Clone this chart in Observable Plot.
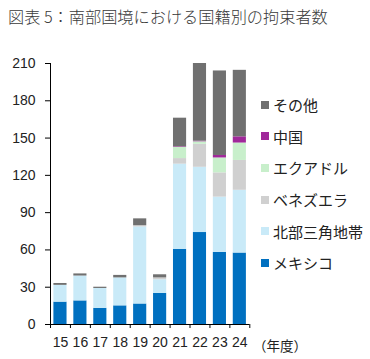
<!DOCTYPE html>
<html><head><meta charset="utf-8">
<script src="https://cdn.jsdelivr.net/npm/d3@7"></script>
<script src="https://cdn.jsdelivr.net/npm/@observablehq/plot@0.6"></script>
<style>
body{margin:0;background:#fff;}
#wrap{position:relative;width:370px;height:359px;overflow:hidden;font-family:"Liberation Sans",Arial,sans-serif;}
#title{position:absolute;left:8px;top:4px;font-family:"Noto Sans CJK JP",sans-serif;font-size:16.2px;color:#3a3a3a;white-space:nowrap;font-weight:300;}
#chart{position:absolute;left:0;top:0;}
#legend{position:absolute;left:261px;top:89px;font-family:"Noto Sans CJK JP",sans-serif;font-size:15px;color:#222;}
.li{display:flex;align-items:center;height:31.6px;}
.sw{width:8px;height:8px;margin-right:4px;}
#unit{position:absolute;left:253px;top:335px;font-family:"Noto Sans CJK JP",sans-serif;font-size:13.5px;color:#222;}
</style></head>
<body>
<div id="wrap">
<div id="chart"></div>
<div id="title">図表 5：南部国境における国籍別の拘束者数</div>
<div id="legend"></div>
<div id="unit">（年度）</div>
</div>
<script>
const years = [15, 16, 17, 18, 19, 20, 21, 22, 23, 24];
const seriesNames = ["メキシコ", "北部三角地帯", "ベネズエラ", "エクアドル", "中国", "その他"];
const seriesColors = ["#0070C0", "#C9EAF8", "#D0D0D0", "#C8EFCB", "#A0289A", "#707070"];
const mexico    = [18, 19, 13, 15, 16.5, 25, 60.5, 74, 58, 57.5];
const northTri  = [13.5, 20, 16, 22.5, 62, 11, 68.5, 52.5, 44.5, 50.5];
const venezuela = [0, 0, 0, 0, 1, 1.5, 4.5, 18.5, 19.5, 24];
const ecuador   = [0, 0, 0, 0, 0, 0, 9, 2, 12, 14];
const china     = [0, 0, 0, 0, 0, 0, 0.5, 0.5, 2, 5];
const other     = [1.5, 1.7, 1, 2, 5.5, 2.5, 23, 62.5, 68, 53.5];
const yTicks = [0, 30, 60, 90, 120, 150, 180, 210];

const seriesValues = [mexico, northTri, venezuela, ecuador, china, other];
const rows = [];
seriesNames.forEach((s, i) => years.forEach((y, j) => rows.push({series: s, year: y, value: seriesValues[i][j]})));
const boundaries = [years[0] - 0.5, ...years.map(y => y + 0.5)];

const chart = Plot.plot({
  width: 370, height: 359,
  marginTop: 63, marginBottom: 35, marginLeft: 50, marginRight: 120.7,
  style: {fontFamily: "'Liberation Sans', Arial, sans-serif", fontSize: "14px", color: "#222"},
  x: {type: "linear", domain: [years[0] - 0.5, years[years.length - 1] + 0.5]},
  y: {domain: [0, 210]},
  color: {domain: seriesNames, range: seriesColors},
  marks: [
    Plot.rectY(rows, Plot.stackY({x1: d => d.year - 0.5, x2: d => d.year + 0.5, y: "value", fill: "series", z: "series", insetLeft: 3.4, insetRight: 3.4})),
    Plot.ruleY([0], {stroke: "#000"}),
    Plot.ruleX([years[0] - 0.5], {stroke: "#000"}),
    Plot.axisY({ticks: yTicks, tickSize: 5, tickPadding: 10, label: null, stroke: "#000", fontSize: 14}),
    Plot.axisX({ticks: boundaries, tickSize: 4, tickFormat: () => "", label: null, stroke: "#000"}),
    Plot.axisX({ticks: years, tickSize: 0, tickPadding: 13, label: null, fontSize: 14})
  ]
});
document.getElementById("chart").appendChild(chart);

const lg = document.getElementById("legend");
[...seriesNames].reverse().forEach((s) => {
  const i = seriesNames.indexOf(s);
  const d = document.createElement("div");
  d.className = "li";
  d.innerHTML = `<span class="sw" style="background:${seriesColors[i]}"></span><span>${s}</span>`;
  lg.appendChild(d);
});
</script>
</body></html>
